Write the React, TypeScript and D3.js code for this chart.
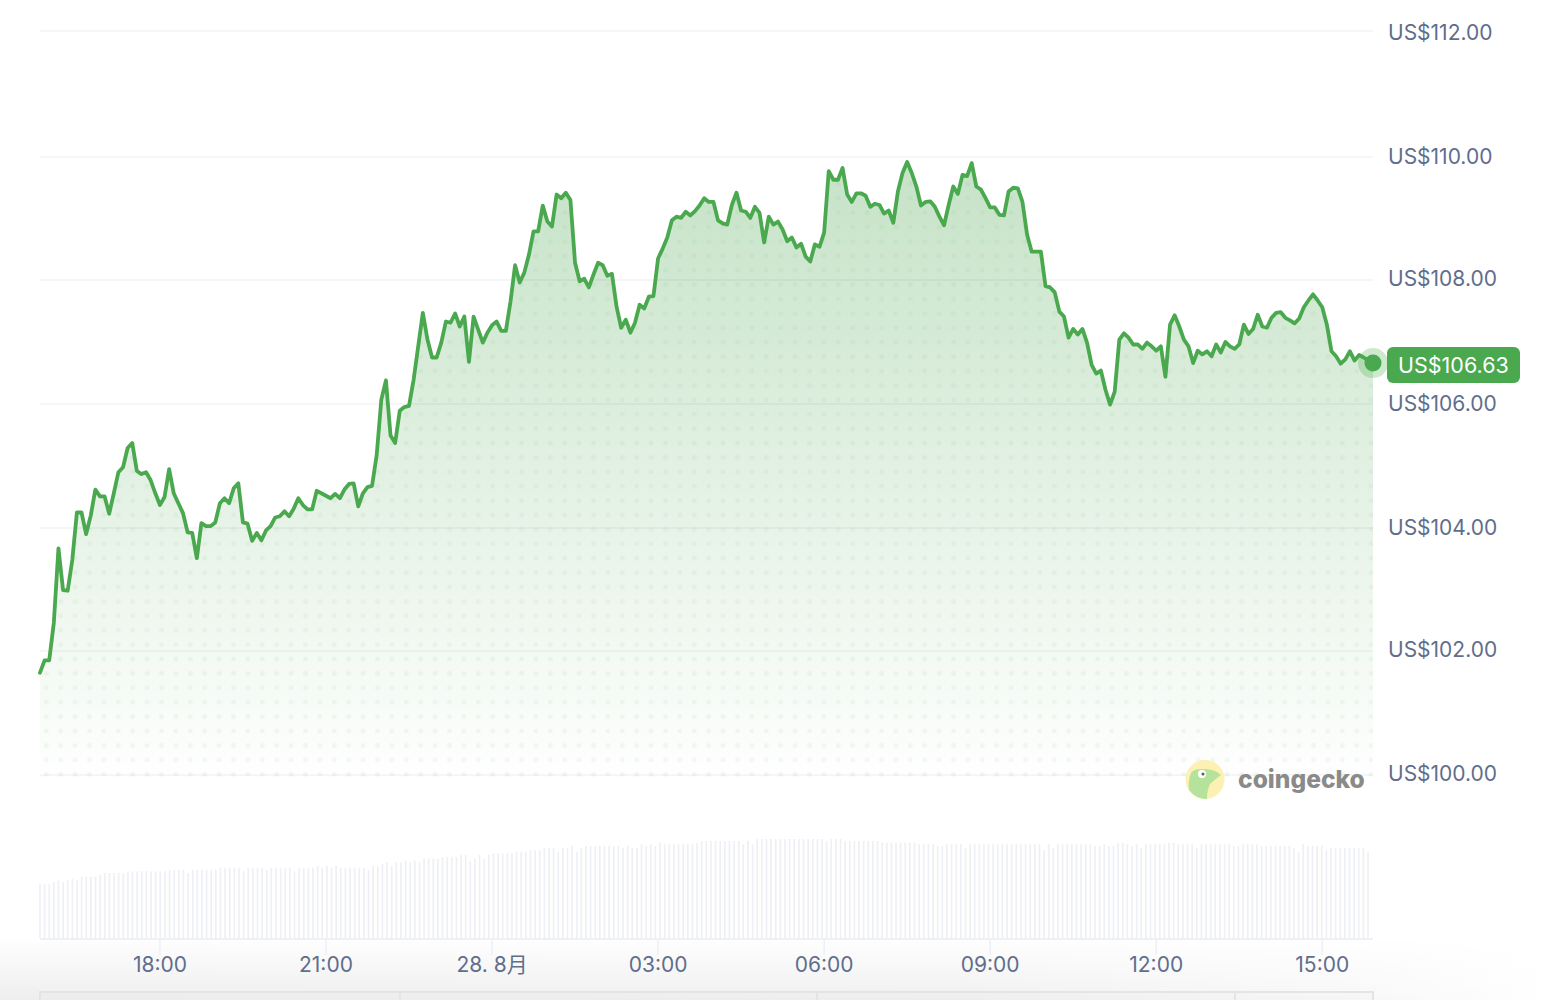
import React from "react";
import * as d3 from "d3";

const prices = [
101.65,101.85,101.85,102.46,103.67,102.99,102.98,103.48,104.25,104.25,103.9,104.2,104.62,104.51,104.51,104.23,104.56,104.9,104.98,105.29,105.37,104.92,104.87,104.9,104.77,104.56,104.37,104.5,104.95,104.56,104.4,104.24,103.93,103.92,103.51,104.08,104.03,104.03,104.09,104.4,104.48,104.4,104.64,104.72,104.09,104.07,103.79,103.92,103.8,103.96,104.03,104.17,104.19,104.27,104.19,104.31,104.48,104.37,104.3,104.3,104.6,104.56,104.52,104.48,104.55,104.48,104.62,104.71,104.72,104.35,104.56,104.66,
104.68,105.18,106.07,106.38,105.49,105.37,105.89,105.95,105.97,106.39,106.93,107.47,107.04,106.75,106.75,106.99,107.33,107.31,107.46,107.25,107.41,106.68,107.41,107.2,106.99,107.15,107.27,107.33,107.18,107.18,107.65,108.24,107.96,108.12,108.41,108.79,108.79,109.21,108.95,108.87,109.39,109.33,109.42,109.3,108.28,107.98,108.02,107.88,108.09,108.28,108.24,108.07,108.1,107.57,107.23,107.36,107.15,107.31,107.6,107.54,107.73,107.74,108.35,108.51,108.69,108.97,109.03,109.01,109.11,109.05,109.12,109.21,109.33,
109.27,109.27,108.97,108.92,108.9,109.22,109.42,109.13,109.11,109.01,109.19,109.09,108.61,109.03,108.9,108.95,108.82,108.63,108.69,108.53,108.59,108.38,108.3,108.58,108.54,108.77,109.77,109.63,109.63,109.82,109.39,109.27,109.41,109.41,109.37,109.19,109.24,109.22,109.08,109.13,108.93,109.44,109.74,109.92,109.74,109.52,109.21,109.27,109.28,109.19,109.03,108.89,109.22,109.52,109.4,109.71,109.69,109.9,109.52,109.47,109.33,109.18,109.18,109.06,109.05,109.44,109.5,109.49,109.27,108.74,108.46,108.46,
108.46,107.9,107.88,107.8,107.49,107.41,107.07,107.21,107.12,107.21,106.99,106.63,106.49,106.54,106.23,105.99,106.2,107.04,107.14,107.07,106.96,106.96,106.89,106.99,106.93,106.86,106.93,106.44,107.28,107.43,107.25,107.04,106.93,106.66,106.86,106.8,106.85,106.77,106.96,106.83,107,106.93,106.89,106.96,107.28,107.13,107.21,107.44,107.25,107.23,107.39,107.47,107.48,107.39,107.35,107.3,107.38,107.56,107.67,107.77,107.67,107.56,107.28,106.85,106.77,106.65,106.72,106.85,106.7,106.79,106.75,106.7,106.66,
];

const volumes = [
54,54,54,56,57.7,56,57.7,59.3,57.7,61.3,61.3,61.3,61.3,63,65,65,65,65,65,66.7,66.7,66.7,66.7,66.7,66.7,66.7,66.7,66.7,68.3,68.3,68.3,68.3,65,68.3,68.3,68.3,68.3,68.3,68.3,70.3,70.3,70.3,70.3,70.3,66.7,70.3,70.3,70.3,70.3,68.3,70.3,70.3,70.3,70.3,70.3,66.7,70.3,70.3,70.3,70.3,72,70.3,72,70.3,72,70.3,70.3,70.3,70.3,70.3,70.3,68.3,
72,72,74,75.7,72,75.7,75.7,77.3,75.7,77.3,75.7,79.3,79.3,79.3,79.3,81,81,81,81,83,83,77.3,79.3,83,79.3,83,84.7,84.7,84.7,84.7,84.7,86.3,86.3,86.3,88,88,88,90,90,90,86.3,90,90,92,86.3,90,92,92,92,92,92,92,92,92,90,92,90,90,93.7,92,93.7,92,95.3,93.7,93.7,93.7,93.7,93.7,93.7,93.7,95.3,97,97,
97,97,97,97,97,97,97,93.7,97,93.7,99,99,99,99,99,99,99,99,99,99,99,99,99,99,99,97,99,99,99,97,97,97,97,97,97,97,97,95.3,95.3,95.3,95.3,95.3,95.3,95.3,95.3,93.7,93.7,93.7,93.7,92,92,93.7,93.7,93.7,93.7,90,93.7,93.7,93.7,93.7,93.7,93.7,93.7,93.7,93.7,93.7,93.7,93.7,93.7,93.7,93.7,93.7,
88,93.7,90,93.7,93.7,93.7,93.7,93.7,93.7,93.7,93.7,92,92,93.7,92,92,95.3,95.3,93.7,92,93.7,90,93.7,93.7,93.7,93.7,93.7,95.3,95.3,93.7,93.7,93.7,93.7,90,93.7,93.7,93.7,93.7,93.7,93.7,93.7,92,92,93.7,93.7,93.7,93.7,92,92,92,92,92,92,92,90,86.3,93.7,92,92,92,92,88,90,90,90,90,90,90,90,90,86.3,
];

const priceTicks = [100, 102, 104, 106, 108, 110, 112];
const priceTickLabels = ["US$100.00", "US$102.00", "US$104.00", "US$106.00", "US$108.00", "US$110.00", "US$112.00"];
const currentPriceLabel = "US$106.63";
const brandName = "coingecko";
const tableColumnEdges = [400, 817, 1235];

const startTime = new Date(2025, 7, 27, 15, 50);
const endTime = new Date(2025, 7, 28, 15, 55);

const FONT = "Inter, 'Noto Sans CJK JP', sans-serif";
const GREEN = "#4aa84e";
const LABEL = "#5f6e8c";

export default function App() {
  const plotLeft = 40;
  const plotRight = 1373;

  const x = d3.scaleTime().domain([startTime, endTime]).range([plotLeft, plotRight]);
  const y = d3.scaleLinear().domain(priceTicks).range([775, 651, 528, 404, 280, 157, 31]);
  const yLabel = d3.scaleLinear().domain(priceTicks).range([773, 649, 527, 403, 278, 156, 32]);
  const yVol = d3.scaleLinear().domain([0, 100]).range([938, 838]);
  const step = (endTime.getTime() - startTime.getTime()) / (prices.length - 1);
  const t = (i: number) => new Date(startTime.getTime() + step * i);
  const xVol = d3.scaleLinear().domain([0, volumes.length - 1]).range([40, 1368]);

  const line = d3.line<number>().x((_, i) => x(t(i))).y((d) => y(d));
  const area = d3.area<number>().x((_, i) => x(t(i))).y0(y(100) + 2).y1((d) => y(d));

  const lastX = x(t(prices.length - 1));
  const lastY = y(prices[prices.length - 1]);
  const timeTicks = x.ticks(d3.timeHour.every(3) as any);
  const fmt = (d: Date) => (d.getHours() === 0 ? "28. 8月" : d3.timeFormat("%H:%M")(d));

  return (
    <svg width={1552} height={1000} viewBox="0 0 1552 1000" style={{ position: "absolute", left: 0, top: 0, display: "block" }} fontFamily={FONT}>
      <defs>
        <linearGradient id="areaFill" gradientUnits="userSpaceOnUse" x1="0" y1="160" x2="0" y2="785">
          <stop offset="0" stopColor="#46a34a" stopOpacity="0.31" />
          <stop offset="1" stopColor="#46a34a" stopOpacity="0" />
        </linearGradient>
        <pattern id="dots" patternUnits="userSpaceOnUse" x="-4.1" y="3.8" width="14.4" height="14.4">
          <circle cx="7.2" cy="7.2" r="2.4" fill="#4caf50" fillOpacity="0.075" />
        </pattern>
        <linearGradient id="pageH" x1="0" y1="0" x2="1" y2="0">
          <stop offset="0" stopColor="#eeeeef" />
          <stop offset="0.62" stopColor="#f0f0f1" />
          <stop offset="0.88" stopColor="#f8f8f9" />
          <stop offset="1" stopColor="#ffffff" />
        </linearGradient>
        <linearGradient id="pageFade" x1="0" y1="0" x2="0" y2="1">
          <stop offset="0" stopColor="#000" />
          <stop offset="1" stopColor="#fff" />
        </linearGradient>
        <mask id="pageMask" maskUnits="userSpaceOnUse" x="0" y="936" width="1552" height="64">
          <rect x="0" y="936" width="1552" height="64" fill="url(#pageFade)" />
        </mask>
      </defs>

      <rect x="0" y="936" width="1552" height="64" fill="url(#pageH)" mask="url(#pageMask)" />

      <path d={area(prices)!} fill="url(#areaFill)" />
      <path d={area(prices)!} fill="url(#dots)" />

      {priceTicks.map((v) => (
        <line key={v} x1={plotLeft} x2={plotRight} y1={y(v)} y2={y(v)} stroke="#1e2a50" strokeOpacity="0.055" strokeWidth="1.6" />
      ))}

      <path d={line(prices)!} fill="none" stroke={GREEN} strokeWidth="3.8" strokeLinejoin="round" strokeLinecap="round" />

      <circle cx={lastX} cy={lastY} r="15" fill="#4caf50" fillOpacity="0.28" />
      <circle cx={lastX} cy={lastY} r="8.5" fill={GREEN} />

      {priceTicks.map((v, i) => (
        <text key={v} x={1388} y={yLabel(v)} dominantBaseline="central" fontSize="21" fill={LABEL}>
          {priceTickLabels[i]}
        </text>
      ))}

      <rect x="1387" y="347" width="133" height="36" rx="6" fill={GREEN} />
      <text x="1398" y="365" dominantBaseline="central" fontSize="21.5" fill="#fff">{currentPriceLabel}</text>

      {volumes.map((v, i) => (
        <rect key={i} x={xVol(i) - 0.85} y={yVol(v)} width="1.7" height={yVol(0) - yVol(v)} fill="#eff0f5" />
      ))}
      <line x1={plotLeft} x2={plotRight} y1="939" y2="939" stroke="#eff0f5" strokeWidth="2" />

      {timeTicks.map((d) => (
        <g key={d.getTime()}>
          <line x1={x(d)} x2={x(d)} y1="939" y2="955" stroke="#eff0f5" strokeWidth="1.6" />
          <text x={x(d)} y="964" textAnchor="middle" dominantBaseline="central" fontSize="21" fill={LABEL}>{fmt(d)}</text>
        </g>
      ))}

      <rect x={plotLeft} y="992" width={plotRight - plotLeft} height="10" fill="#000" fillOpacity="0.008" stroke="#e3e4e8" strokeWidth="2" />
      {tableColumnEdges.map((e) => (
        <line key={e} x1={e} x2={e} y1="992" y2="1000" stroke="#e3e4e8" strokeWidth="2" />
      ))}

      <g>
        <circle cx="1205" cy="779.5" r="19.5" fill="#fcf0b2" />
        <path d="M1189,790 Q1188,780 1191,773 Q1194,769 1201,769 Q1214,768 1221,775 Q1213,781 1210,784 Q1207,790 1207,799 Q1196,799 1189,790 Z" fill="#b6e39b" />
        <circle cx="1202" cy="774" r="4" fill="#fff" />
        <circle cx="1203" cy="774" r="1.6" fill="#5a6a50" />
        <text x="1238" y="778.5" dominantBaseline="central" fontSize="24.6" fontWeight="800" fill="#8a8a8a" fontFamily="Inter, sans-serif">{brandName}</text>
      </g>
    </svg>
  );
}
